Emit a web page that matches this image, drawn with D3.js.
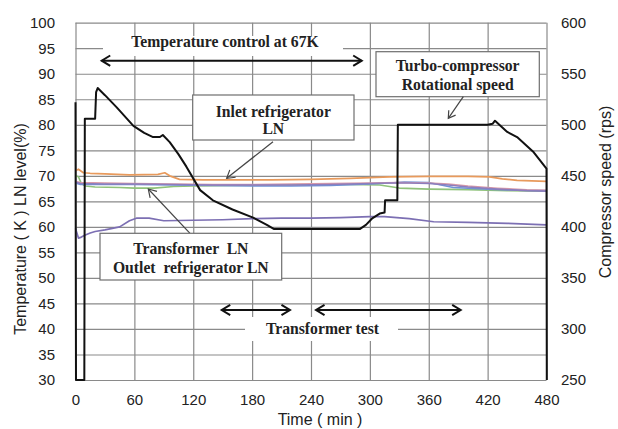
<!DOCTYPE html>
<html>
<head>
<meta charset="utf-8">
<script src="https://cdn.jsdelivr.net/npm/d3@7"></script>
<style>
  html, body { margin: 0; padding: 0; background: #fff; }
  svg { display: block; }
</style>
</head>
<body>
<svg id="chart" width="618" height="429"></svg>
<script>
// ---------------- data ----------------
const xTicks = [0, 60, 120, 180, 240, 300, 360, 420, 480];
const leftTicks = [30, 35, 40, 45, 50, 55, 60, 65, 70, 75, 80, 85, 90, 95, 100];
const rightTicks = [250, 300, 350, 400, 450, 500, 550, 600];

// Turbo-compressor rotational speed (rps, right axis)
const speedTime = [0, 0.5, 9, 9.5, 20, 21, 22.6, 30, 42, 59, 70, 79, 86, 89, 96, 105, 113, 127, 140, 160, 181, 195, 202, 240, 290, 296, 302, 310, 315, 315.5, 328, 328.5, 350, 380, 400, 420, 425, 427.5, 440, 450, 467, 480, 480.3];
const speedRps = [522, 250, 250, 506, 506, 532, 536, 529, 517, 499, 492, 488, 488, 490, 483, 471, 459, 436, 426, 417, 409, 402, 398, 398, 398, 402, 408, 413, 414, 426, 426, 500, 500, 500, 500, 500, 501, 504, 493, 488, 473, 457, 250];

// Inlet refrigerator LN (K)
const inletTime = [0, 3, 8, 15, 30, 55, 84, 91, 96, 106, 130, 157, 200, 240, 280, 320, 360, 400, 422, 435, 450, 465, 480];
const inletK = [71.0, 71.3, 70.6, 70.5, 70.4, 70.2, 70.3, 70.6, 70.0, 69.3, 69.2, 69.2, 69.2, 69.3, 69.5, 69.8, 69.9, 69.9, 69.8, 69.4, 69.1, 69.0, 68.9];

// Green trace (K)
const greenTime = [0, 3, 6, 10, 20, 45, 60, 80, 100, 120, 160, 200, 240, 280, 310, 330, 360, 400, 440, 480];
const greenK = [70.0, 69.8, 68.5, 68.0, 67.8, 67.7, 67.6, 67.6, 67.9, 68.0, 68.1, 68.2, 68.3, 68.3, 68.2, 67.6, 67.4, 67.3, 67.1, 67.0];

// Blue trace (K)
const blueTime = [0, 5, 20, 60, 100, 140, 180, 220, 260, 300, 320, 335, 360, 370, 385, 420, 450, 480];
const blueK = [68.6, 68.3, 68.3, 68.3, 68.2, 68.1, 68.0, 68.0, 68.1, 68.4, 68.6, 68.8, 68.7, 68.3, 67.7, 67.4, 67.2, 67.1];

// Pink trace (K)
const pinkTime = [0, 5, 30, 60, 100, 140, 180, 220, 260, 300, 330, 360, 380, 400, 430, 460, 480];
const pinkK = [68.9, 68.7, 68.6, 68.5, 68.4, 68.3, 68.3, 68.4, 68.5, 68.6, 68.7, 68.6, 68.4, 68.0, 67.6, 67.3, 67.2];

// Outlet refrigerator LN (K)
const outletTime = [0, 5, 30, 60, 100, 140, 180, 220, 260, 300, 320, 340, 360, 380, 400, 430, 460, 480];
const outletK = [68.8, 68.5, 68.4, 68.4, 68.3, 68.2, 68.2, 68.2, 68.3, 68.5, 68.6, 68.6, 68.5, 68.2, 67.8, 67.4, 67.1, 67.0];

// Transformer LN (K)
const transTime = [0, 3, 6, 10, 15, 20, 30, 45, 55, 62, 75, 90, 120, 150, 180, 210, 240, 270, 300, 315, 340, 365, 400, 440, 480];
const transK = [59.7, 57.8, 58.0, 58.4, 58.8, 59.1, 59.4, 60.0, 61.2, 61.7, 61.7, 61.2, 61.3, 61.4, 61.6, 61.7, 61.7, 61.8, 62.0, 62.0, 61.6, 61.0, 60.9, 60.7, 60.4];

// ---------------- layout ----------------
const svg = d3.select("#chart");
const L = 75.5, R = 546.5, T = 22.7, B = 380;
const x = d3.scaleLinear().domain([0, 480]).range([L, R]);
const yL = d3.scaleLinear().domain([30, 100]).range([B, T]);
const yR = d3.scaleLinear().domain([250, 600]).range([B, T]);

const gridColor = "#8a8a8a";
const tickFont = "'Liberation Sans', Arial, sans-serif";
const serif = "'Liberation Serif', 'Times New Roman', serif";

// gridlines
svg.append("g")
  .attr("transform", `translate(0,${B})`)
  .call(d3.axisBottom(x).tickValues(xTicks).tickSize(-(B - T)).tickFormat(""))
  .call(g => g.select(".domain").remove())
  .call(g => g.selectAll("line").attr("stroke", gridColor).attr("stroke-width", 1.2));
svg.append("g")
  .attr("transform", `translate(${L},0)`)
  .call(d3.axisLeft(yL).tickValues(leftTicks).tickSize(-(R - L)).tickFormat(""))
  .call(g => g.select(".domain").remove())
  .call(g => g.selectAll("line").attr("stroke", gridColor).attr("stroke-width", 1.2));

// white backgrounds behind annotation texts (break the gridlines)
svg.append("rect").attr("x", 103).attr("y", 36).attr("width", 240).attr("height", 20).attr("fill", "#fff");
svg.append("rect").attr("x", 245).attr("y", 317).attr("width", 153).attr("height", 24).attr("fill", "#fff");

// tick labels
svg.append("g")
  .attr("transform", `translate(0,${B})`)
  .call(d3.axisBottom(x).tickValues(xTicks).tickSize(0).tickPadding(14))
  .call(g => g.select(".domain").remove())
  .call(g => g.selectAll("text").attr("font-family", tickFont).attr("font-size", 15).attr("fill", "#222"));
svg.append("g")
  .attr("transform", `translate(${L},0)`)
  .call(d3.axisLeft(yL).tickValues(leftTicks).tickSize(0).tickPadding(20.5))
  .call(g => g.select(".domain").remove())
  .call(g => g.selectAll("text").attr("font-family", tickFont).attr("font-size", 15).attr("fill", "#222"));
svg.append("g")
  .attr("transform", `translate(${R},0)`)
  .call(d3.axisRight(yR).tickValues(rightTicks).tickSize(0).tickPadding(14.5))
  .call(g => g.select(".domain").remove())
  .call(g => g.selectAll("text").attr("font-family", tickFont).attr("font-size", 15).attr("fill", "#222"));

// axis titles
svg.append("text")
  .attr("transform", `translate(22,229) rotate(-90)`)
  .attr("text-anchor", "middle").attr("dominant-baseline", "middle")
  .attr("font-family", tickFont).attr("font-size", 16).attr("fill", "#222")
  .text("Temperature ( K ) LN level(%)");
svg.append("text")
  .attr("transform", `translate(607,192) rotate(-90)`)
  .attr("text-anchor", "middle").attr("dominant-baseline", "middle")
  .attr("font-family", tickFont).attr("font-size", 16).attr("fill", "#222")
  .text("Compressor speed (rps)");
svg.append("text")
  .attr("x", 320).attr("y", 425)
  .attr("text-anchor", "middle")
  .attr("font-family", tickFont).attr("font-size", 16).attr("fill", "#222")
  .text("Time ( min )");

// ---------------- lines ----------------
function drawLine(times, vals, yScale, color, width) {
  const pts = times.map((t, i) => [t, vals[i]]);
  svg.append("path")
    .datum(pts)
    .attr("fill", "none")
    .attr("stroke", color)
    .attr("stroke-width", width)
    .attr("stroke-linejoin", "round")
    .attr("d", d3.line().x(d => x(d[0])).y(d => yScale(d[1])));
}
drawLine(greenTime, greenK, yL, "#8fc27a", 1.6);
drawLine(blueTime, blueK, yL, "#6f93d6", 1.6);
drawLine(pinkTime, pinkK, yL, "#d99aa8", 1.4);
drawLine(outletTime, outletK, yL, "#8c7dbd", 1.6);
drawLine(inletTime, inletK, yL, "#e89a5c", 1.7);
drawLine(transTime, transK, yL, "#7c6fb3", 1.7);
drawLine(speedTime, speedRps, yR, "#111", 2);

// ---------------- annotations ----------------
function chevron(x1, y1, x2, y2, size, color, width) {
  const a = Math.atan2(y2 - y1, x2 - x1);
  const s = 0.55;
  const p1 = [x2 - size * Math.cos(a - s), y2 - size * Math.sin(a - s)];
  const p2 = [x2 - size * Math.cos(a + s), y2 - size * Math.sin(a + s)];
  svg.append("path")
    .attr("d", `M${p1[0]},${p1[1]} L${x2},${y2} L${p2[0]},${p2[1]}`)
    .attr("fill", "none").attr("stroke", color).attr("stroke-width", width)
    .attr("stroke-linejoin", "miter");
}
function arrow(x1, y1, x2, y2, opts) {
  svg.append("line").attr("x1", x1).attr("y1", y1).attr("x2", x2).attr("y2", y2)
    .attr("stroke", opts.color).attr("stroke-width", opts.width);
  chevron(x1, y1, x2, y2, opts.size, opts.color, opts.width);
  if (opts.both) chevron(x2, y2, x1, y1, opts.size, opts.color, opts.width);
}
function label(cx, y, text, size) {
  svg.append("text").attr("x", cx).attr("y", y)
    .attr("text-anchor", "middle")
    .attr("font-family", serif).attr("font-weight", "bold")
    .attr("font-size", size).attr("fill", "#222")
    .attr("xml:space", "preserve").style("white-space", "pre")
    .text(text);
}
function box(x0, y0, w, h) {
  svg.append("rect").attr("x", x0).attr("y", y0).attr("width", w).attr("height", h)
    .attr("fill", "#fff").attr("stroke", "#6e6e6e").attr("stroke-width", 1.2);
}

const fs = 15.7;
// Temperature control at 67K
label(225, 47, "Temperature control at 67K", fs);
arrow(x(26.7), yL(92.55), x(291.7), yL(92.55), { color: "#111", width: 2, size: 10, both: true });

// Inlet refrigerator LN
box(192.7, 95, 161.3, 45);
label(273.3, 116.5, "Inlet refrigerator", fs);
label(273.3, 133.5, "LN", fs);
arrow(273, 141.7, 226.7, 178.3, { color: "#444", width: 1.2, size: 9 });

// Turbo-compressor
box(376, 51.7, 163.3, 45);
label(457.7, 70.5, "Turbo-compressor", fs);
label(457.7, 89.5, "Rotational speed", fs);
arrow(463.3, 96.7, 448.3, 118.3, { color: "#444", width: 1.2, size: 8 });

// Transformer LN / Outlet refrigerator LN
arrow(190, 233.3, 148.3, 189, { color: "#444", width: 1.2, size: 9 });
box(100, 233.3, 181.7, 46.7);
label(190.8, 253.5, "Transformer  LN", fs);
label(190.8, 272.5, "Outlet  refrigerator LN", fs);

// Transformer test
arrow(221.7, 310, 290, 310, { color: "#111", width: 2, size: 10, both: true });
arrow(316, 310, 460.7, 310, { color: "#111", width: 2, size: 10, both: true });
label(322.5, 333.5, "Transformer test", fs);
</script>
</body>
</html>
